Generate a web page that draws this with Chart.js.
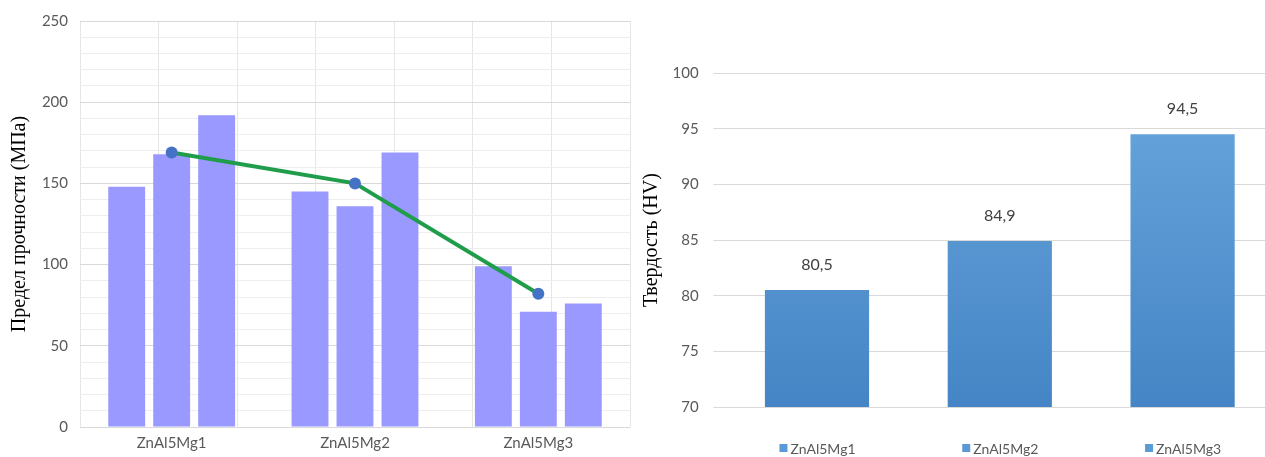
<!DOCTYPE html>
<html>
<head>
<meta charset="utf-8">
<script src="https://cdn.jsdelivr.net/npm/chart.js@4.4.1/dist/chart.umd.min.js"></script>
<style>
  html, body { margin: 0; padding: 0; background: #fff; overflow: hidden; width: 1265px; height: 457px; }
  #left { position: absolute; left: 0; top: 0; width: 640px; height: 457px; }
  #right { position: absolute; left: 640px; top: 0; width: 634px; height: 457px; }
</style>
</head>
<body>
<div id="left"><canvas id="strengthChart"></canvas></div>
<div id="right"><canvas id="hardnessChart"></canvas></div>
<script>
const alloys = ['ZnAl5Mg1', 'ZnAl5Mg2', 'ZnAl5Mg3'];
// three samples per alloy, MPa
const sample1 = [148, 145, 99];
const sample2 = [168, 136, 71];
const sample3 = [192, 169, 76];
const strengthMean = [169, 150, 82];
// Vickers hardness
const hardness = [80.5, 84.9, 94.5];

const grey = '#595959';
const tickFont = { family: 'Lato', size: 15 };
const serif = { family: 'Liberation Serif', size: 20 };

const barStyle = {
  backgroundColor: '#9999ff',
  categoryPercentage: 0.736,
  barPercentage: 0.82,
  order: 2
};

new Chart(document.getElementById('strengthChart'), {
  type: 'bar',
  data: {
    labels: alloys,
    datasets: [
      {
        type: 'line',
        data: strengthMean,
        borderColor: '#1f9d4b',
        borderWidth: 4,
        pointRadius: 6,
        pointBackgroundColor: '#4472c4',
        pointBorderColor: '#4472c4',
        pointBorderWidth: 0,
        order: 0
      },
      { ...barStyle, data: sample1 },
      { ...barStyle, data: sample2 },
      { ...barStyle, data: sample3 }
    ]
  },
  options: {
    responsive: true,
    maintainAspectRatio: false,
    animation: false,
    layout: { padding: { top: 15, right: 10, left: 0, bottom: 0 } },
    plugins: { legend: { display: false }, tooltip: { enabled: false } },
    scales: {
      x: {
        grid: { display: false, drawTicks: false },
        border: { display: false },
        ticks: { color: grey, font: tickFont, padding: 7 },
        afterFit: s => { s.height = 30; }
      },
      xg: {
        type: 'linear',
        position: 'top',
        min: 0,
        max: 3,
        ticks: { display: false, stepSize: 0.5 },
        grid: { color: '#e6e6e6', drawTicks: false },
        border: { display: false },
        afterFit: s => { s.height = 0; }
      },
      y: {
        min: 0,
        max: 250,
        ticks: {
          stepSize: 10,
          autoSkip: false,
          color: grey,
          font: tickFont,
          padding: 12,
          callback: v => (v % 50 === 0 ? v : '')
        },
        grid: {
          drawTicks: false,
          color: c => (c.tick.value % 50 === 0 ? '#d9d9d9' : '#eeeeee')
        },
        border: { display: false },
        title: {
          display: true,
          text: 'Предел прочности (МПа)',
          color: '#000',
          font: serif,
          padding: { top: 8, bottom: 0 }
        },
        afterFit: s => { s.width = 80; }
      }
    }
  }
});

// value labels above the hardness bars, with decimal comma
const valueLabels = {
  id: 'valueLabels',
  afterDatasetsDraw(chart) {
    const ctx = chart.ctx;
    ctx.save();
    ctx.font = '16px Lato';
    ctx.fillStyle = '#404040';
    ctx.textAlign = 'center';
    ctx.textBaseline = 'bottom';
    chart.getDatasetMeta(0).data.forEach((bar, i) => {
      ctx.fillText(String(hardness[i]).replace('.', ','), bar.x, bar.y - 17);
    });
    ctx.restore();
  }
};

// small coloured squares in front of the category names (legend look)
const legendSquares = {
  id: 'legendSquares',
  afterDraw(chart) {
    const ctx = chart.ctx;
    const xs = chart.scales.x;
    ctx.save();
    ctx.font = '14px Lato';
    ctx.fillStyle = '#5b9bd5';
    alloys.forEach((name, i) => {
      const w = ctx.measureText(name).width;
      const cx = xs.getPixelForTick(i) + 6;
      ctx.fillRect(cx - w / 2 - 11, 444, 8, 8);
    });
    ctx.restore();
  }
};

new Chart(document.getElementById('hardnessChart'), {
  type: 'bar',
  data: {
    labels: alloys,
    datasets: [{
      data: hardness,
      categoryPercentage: 1,
      barPercentage: 0.57,
      backgroundColor: c => {
        const a = c.chart.chartArea;
        if (!a) return '#5b9bd5';
        const g = c.chart.ctx.createLinearGradient(0, a.top, 0, a.bottom);
        g.addColorStop(0, '#6aa7de');
        g.addColorStop(1, '#4585c5');
        return g;
      }
    }]
  },
  options: {
    responsive: true,
    maintainAspectRatio: false,
    animation: false,
    layout: { padding: { top: 73, right: 0, left: 0, bottom: 0 } },
    plugins: { legend: { display: false }, tooltip: { enabled: false } },
    scales: {
      x: {
        grid: { display: false, drawTicks: false },
        border: { display: false },
        ticks: { color: grey, font: { family: 'Lato', size: 14 }, padding: 34, labelOffset: 6 },
        afterFit: s => { s.height = 50; }
      },
      y: {
        min: 70,
        max: 100,
        ticks: { stepSize: 5, color: grey, font: tickFont, padding: 15 },
        grid: { color: '#d9d9d9', tickLength: 12 },
        border: { display: false },
        title: {
          display: true,
          text: 'Твердость (HV)',
          color: '#000',
          font: serif,
          padding: { top: 0, bottom: 0 }
        },
        afterFit: s => { s.width = 85.6; }
      }
    }
  },
  plugins: [valueLabels, legendSquares]
});
</script>
</body>
</html>
